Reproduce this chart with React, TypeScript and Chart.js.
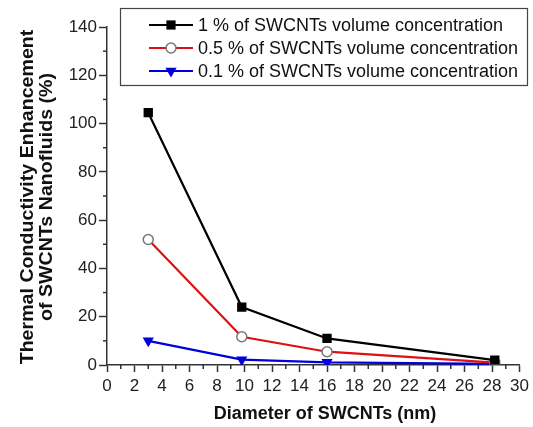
import React, { useEffect, useRef } from "react";
import { Chart, registerables } from "chart.js";

Chart.register(...registerables);

const diameters = [3, 9.8, 16, 28.2];
const conc1 = [104.5, 24, 11, 2];
const conc05 = [52, 11.7, 5.5, 1];
const conc01 = [10, 2.2, 1.1, 0.5];

const seriesLabels = [
  "1 % of SWCNTs volume concentration",
  "0.5 % of SWCNTs volume concentration",
  "0.1 % of SWCNTs volume concentration",
];
const xTitle = "Diameter of SWCNTs (nm)";
const yTitle = ["Thermal Conductivity Enhancement", "of SWCNTs Nanofluids (%)"];

const FONT = "'Liberation Sans', Arial, sans-serif";
const AXIS = "#333333";

const toPts = (ys: number[]) => diameters.map((x, i) => ({ x, y: ys[i] }));

function drawMarker(ctx: CanvasRenderingContext2D, kind: number, x: number, y: number) {
  ctx.save();
  if (kind === 0) {
    ctx.fillStyle = "#000";
    ctx.fillRect(x - 4.6, y - 4.6, 9.2, 9.2);
  } else if (kind === 1) {
    ctx.beginPath();
    ctx.arc(x, y, 5, 0, Math.PI * 2);
    ctx.fillStyle = "#fff";
    ctx.fill();
    ctx.lineWidth = 1.5;
    ctx.strokeStyle = "#777";
    ctx.stroke();
  } else {
    const r = 6.5;
    ctx.beginPath();
    ctx.moveTo(x, y + r);
    ctx.lineTo(x - r * 0.866, y - r * 0.5);
    ctx.lineTo(x + r * 0.866, y - r * 0.5);
    ctx.closePath();
    ctx.fillStyle = "#0000dd";
    ctx.fill();
  }
  ctx.restore();
}

const extrasPlugin = {
  id: "extras",
  afterDraw(chart: any) {
    const ctx = chart.ctx as CanvasRenderingContext2D;
    const xs = chart.scales.x;
    const ys = chart.scales.y;
    const area = chart.chartArea;
    ctx.save();
    ctx.strokeStyle = AXIS;
    ctx.lineWidth = 1.5;
    // minor ticks
    for (let v = 1; v < 30; v += 2) {
      const px = xs.getPixelForValue(v);
      ctx.beginPath();
      ctx.moveTo(px, area.bottom);
      ctx.lineTo(px, area.bottom + 4);
      ctx.stroke();
    }
    for (let v = 10; v < 140; v += 20) {
      const py = ys.getPixelForValue(v);
      ctx.beginPath();
      ctx.moveTo(area.left, py);
      ctx.lineTo(area.left - 4, py);
      ctx.stroke();
    }
    // axis titles
    ctx.fillStyle = "#111";
    ctx.font = `bold 18px ${FONT}`;
    ctx.textAlign = "center";
    ctx.textBaseline = "middle";
    ctx.fillText(xTitle, 325, 414);
    ctx.save();
    ctx.translate(0, 197);
    ctx.rotate(-Math.PI / 2);
    ctx.scale(1.09, 1);
    ctx.fillText(yTitle[0], 0, 28.5);
    ctx.fillText(yTitle[1], 0, 47.5);
    ctx.restore();
    // legend
    ctx.lineWidth = 1.2;
    ctx.strokeStyle = "#444";
    ctx.strokeRect(120.5, 8.5, 407, 77);
    const colors = ["#000000", "#dd1111", "#0000dd"];
    const rows = [25, 48, 71];
    ctx.font = `18px ${FONT}`;
    ctx.textBaseline = "middle";
    ctx.textAlign = "left";
    rows.forEach((ry, i) => {
      ctx.strokeStyle = colors[i];
      ctx.lineWidth = 2.2;
      ctx.beginPath();
      ctx.moveTo(149, ry);
      ctx.lineTo(193, ry);
      ctx.stroke();
      drawMarker(ctx, i, 171, ry);
      ctx.fillStyle = "#111";
      ctx.fillText(seriesLabels[i], 198, ry + 1);
    });
    ctx.restore();
  },
};

export default function App() {
  const ref = useRef<HTMLCanvasElement>(null);
  useEffect(() => {
    if (!ref.current) return;
    const chart = new Chart(ref.current, {
      type: "line",
      data: {
        datasets: [
          {
            label: seriesLabels[0],
            data: toPts(conc1),
            borderColor: "#000000",
            backgroundColor: "#000000",
            borderWidth: 2.2,
            pointStyle: "rect",
            pointRadius: 6.6,
            pointBorderWidth: 0,
          },
          {
            label: seriesLabels[1],
            data: toPts(conc05),
            borderColor: "#dd1111",
            backgroundColor: "#ffffff",
            pointBorderColor: "#777777",
            borderWidth: 2.2,
            pointStyle: "circle",
            pointRadius: 5,
            pointBorderWidth: 1.5,
          },
          {
            label: seriesLabels[2],
            data: toPts(conc01),
            borderColor: "#0000dd",
            backgroundColor: "#0000dd",
            borderWidth: 2.2,
            pointStyle: "triangle",
            pointRotation: 180,
            pointRadius: 6.5,
            pointBorderWidth: 0,
          },
        ],
      },
      options: {
        responsive: false,
        animation: false,
        layout: { padding: { top: 27, right: 10, left: 0, bottom: 0 } },
        plugins: { legend: { display: false }, tooltip: { enabled: false } },
        scales: {
          x: {
            type: "linear",
            min: 0,
            max: 30,
            ticks: { stepSize: 2, font: { family: FONT, size: 17 }, color: "#222", padding: 4, maxRotation: 0, autoSkip: false },
            grid: { display: true, drawOnChartArea: false, drawTicks: true, tickLength: 7, tickColor: AXIS, tickWidth: 1.5 },
            border: { color: AXIS, width: 1.5 },
            title: { display: false },
            afterFit: (s: any) => { s.height = 62; },
          },
          y: {
            type: "linear",
            min: 0,
            max: 140,
            ticks: { stepSize: 20, font: { family: FONT, size: 17 }, color: "#222", padding: 2 },
            grid: { display: true, drawOnChartArea: false, drawTicks: true, tickLength: 8, tickColor: AXIS, tickWidth: 1.5 },
            border: { color: AXIS, width: 1.5 },
            title: { display: false },
            afterFit: (s: any) => { s.width = 107; },
          },
        },
      },
      plugins: [extrasPlugin],
    } as any);
    return () => chart.destroy();
  }, []);
  return (
    <div style={{ position: "absolute", left: 0, top: 0, width: 533, height: 427, background: "#fff" }}>
      <canvas ref={ref} width={533} height={427} style={{ display: "block" }} />
    </div>
  );
}
